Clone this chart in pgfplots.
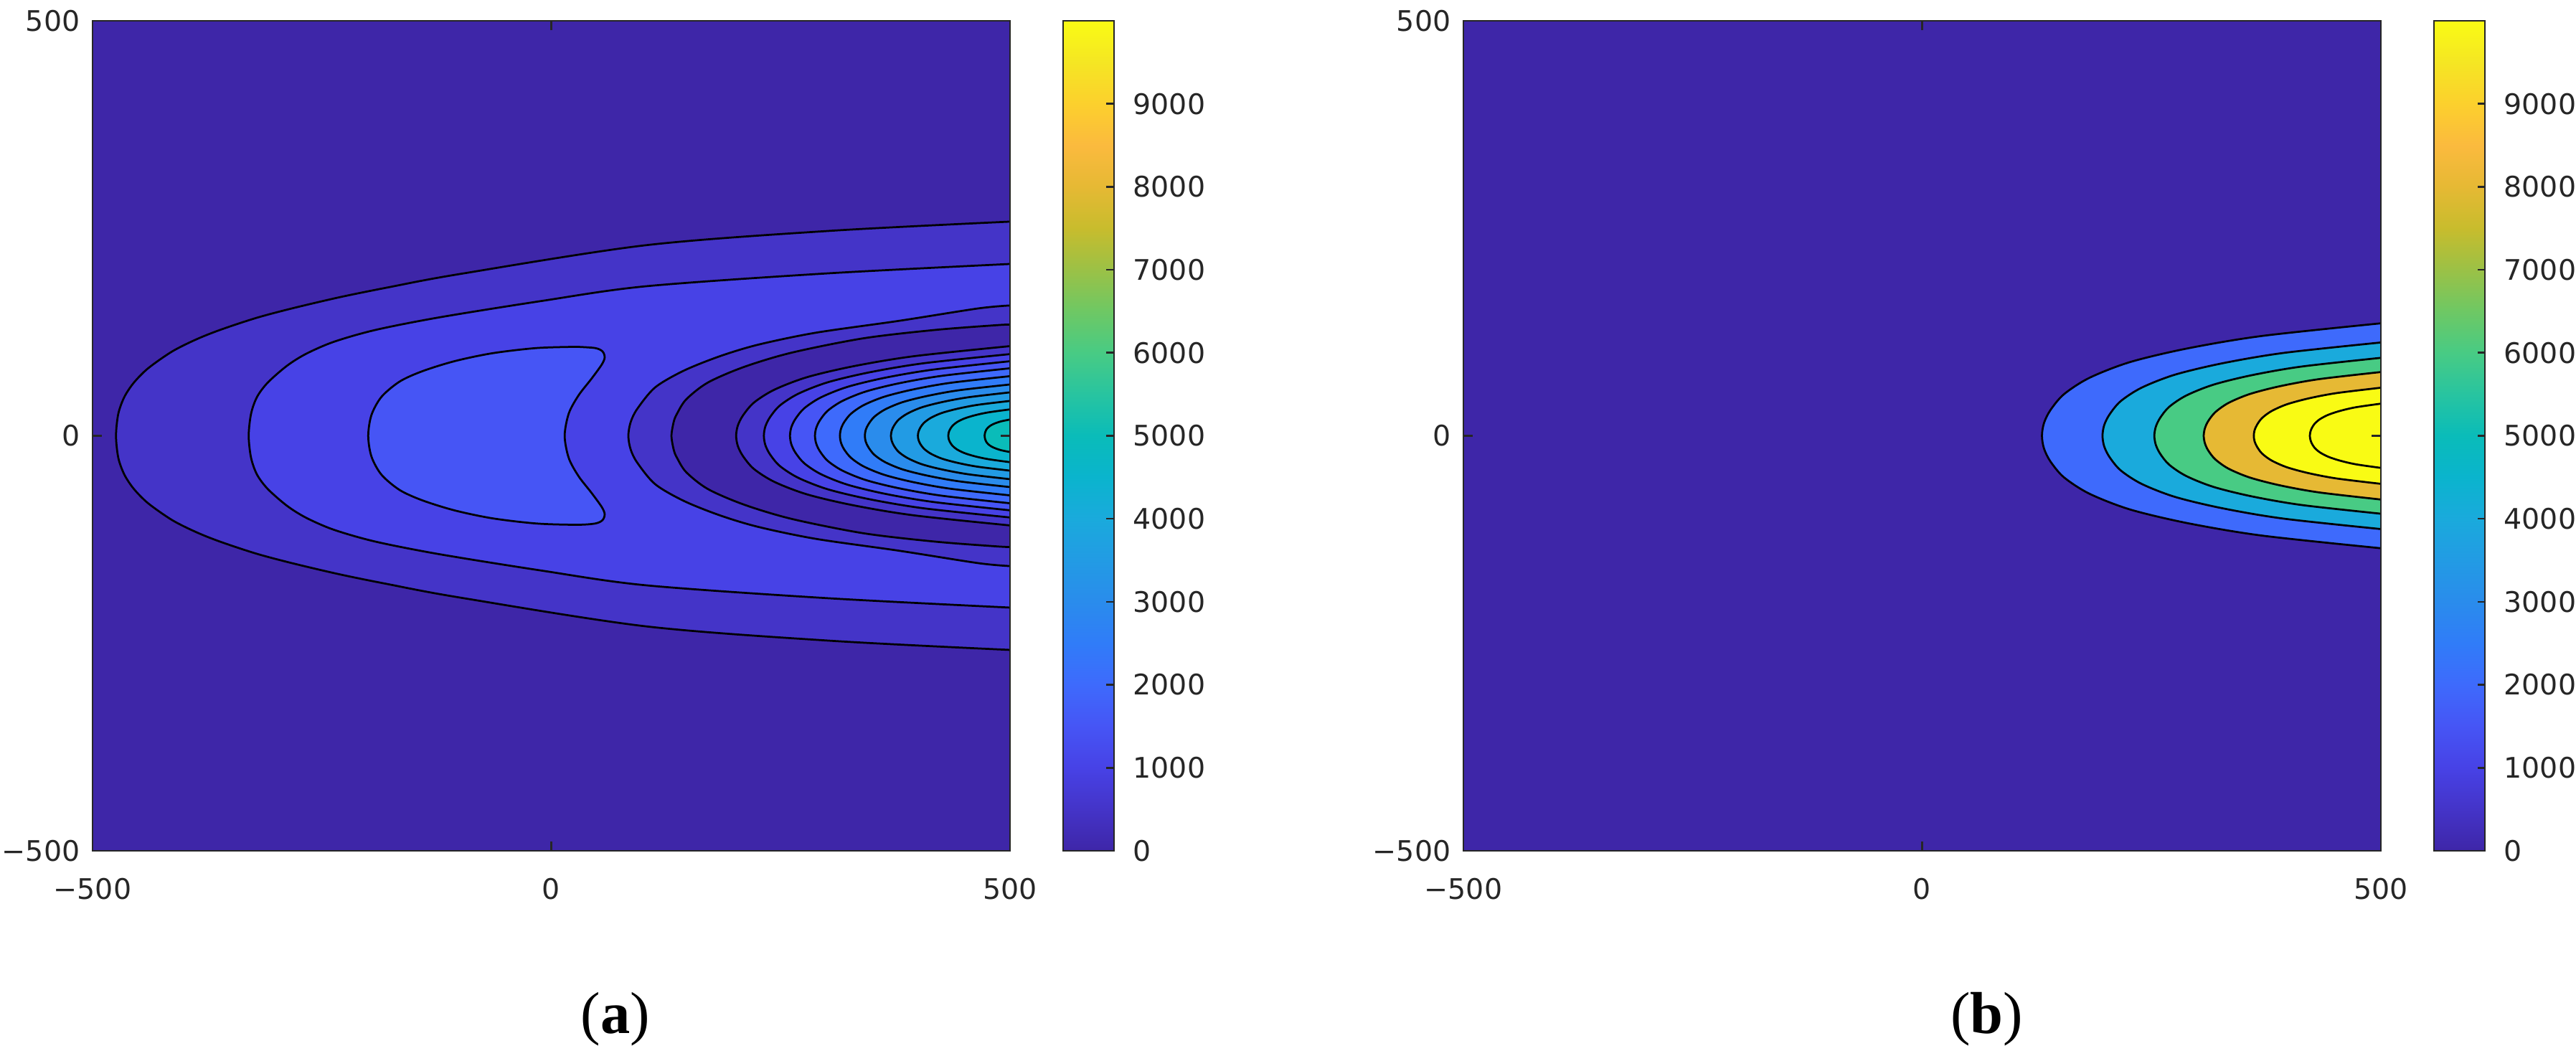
\documentclass[border=0pt]{standalone}
\usepackage{fontspec}
\setmainfont{DejaVu Sans}
\newfontfamily\capfont{Liberation Serif}
\usepackage{pgfplots}
\pgfplotsset{compat=1.18}

% parula-like colours, one every 0.05 of the 0..10000 colour range
\definecolor{p00}{RGB}{62,38,168}
\definecolor{p05}{RGB}{68,52,200}
\definecolor{p10}{RGB}{71,66,230}
\definecolor{p15}{RGB}{70,85,245}
\definecolor{p20}{RGB}{62,106,252}
\definecolor{p25}{RGB}{48,124,248}
\definecolor{p30}{RGB}{42,140,236}
\definecolor{p35}{RGB}{34,155,228}
\definecolor{p40}{RGB}{26,170,220}
\definecolor{p45}{RGB}{10,180,205}
\definecolor{p50}{RGB}{10,188,185}
\definecolor{p60}{RGB}{72,203,132}
\definecolor{p80}{RGB}{230,185,52}
\definecolor{p100}{RGB}{249,251,20}
\definecolor{axgray}{RGB}{38,38,38}

\pgfplotsset{
  colormap={parula}{
    rgb255=(62,38,168) rgb255=(68,52,200) rgb255=(71,66,230) rgb255=(70,85,245)
    rgb255=(62,106,252) rgb255=(48,124,248) rgb255=(42,140,236) rgb255=(34,155,228)
    rgb255=(26,170,220) rgb255=(10,180,205) rgb255=(10,188,185) rgb255=(40,196,160)
    rgb255=(72,203,132) rgb255=(110,200,100) rgb255=(155,193,70) rgb255=(200,188,45)
    rgb255=(230,185,52) rgb255=(251,186,62) rgb255=(252,208,45) rgb255=(245,230,35)
    rgb255=(249,251,20)
  },
  cf/.style={smooth, draw=black, line width=0.55pt, fill=#1},
  panel/.style={
    scale only axis, width=255.8pt, height=231.4pt, anchor=south west,
    xmin=-500, xmax=500, ymin=-500, ymax=500,
    xtick={-500,0,500}, ytick={-500,0,500},
    xticklabels={−500,0,500}, yticklabels={−500,0,500},
    tick align=inside, major tick length=2.6pt,
    axis line style={axgray, line width=0.53pt},
    tick style={axgray, line width=0.53pt},
    tick label style={font=\fontsize{7.9}{9}\selectfont, text=axgray},
    xticklabel style={yshift=-4.2pt},
    axis on top,
    axis background/.style={fill=p00},
    point meta min=0, point meta max=10000,
    colorbar,
    colorbar style={
      at={(parent axis.north east)}, anchor=north west, xshift=6.26pt,
      scale only axis, width=14.2pt, height=231.4pt,
      scaled y ticks=false,
      ytick={0,1000,2000,3000,4000,5000,6000,7000,8000,9000},
      yticklabels={0,1000,2000,3000,4000,5000,6000,7000,8000,9000},
      ytick pos=right, ytick align=inside, major tick length=2.1pt,
      axis line style={axgray, line width=0.53pt},
      tick style={axgray, line width=0.53pt},
      yticklabel style={font=\fontsize{7.9}{9}\selectfont, text=axgray, xshift=1.8pt},
    },
  },
}

\begin{document}
\begin{tikzpicture}
\useasboundingbox (0,0) rectangle (718.2pt,295.8pt);

% (a)
\begin{axis}[panel, at={(25.8pt,58.6pt)}]
\addplot[cf=p05] coordinates {(500,258) (305.1,247) (102.4,229.5) (-100.2,194.8) (-179.2,178.5) (-230.8,166.9) (-282.4,153.5) (-321.8,141.9) (-361.1,127.5) (-387.2,116) (-413.2,101.6) (-439.3,81.4) (-454.9,64.1) (-465.3,46.8) (-471.9,26.6) (-474.4,0) (-471.9,-26.6) (-465.3,-46.8) (-454.9,-64.1) (-439.3,-81.4) (-413.2,-101.6) (-387.2,-116) (-361.1,-127.5) (-321.8,-141.9) (-282.4,-153.5) (-230.8,-166.9) (-179.2,-178.5) (-100.2,-194.8) (102.4,-229.5) (305.1,-247) (500,-258)};
\addplot[cf=p10] coordinates {(500,207) (300,195.6) (102.8,180.1) (-10,162.5) (-121.3,142.8) (-191.7,127.5) (-237.3,113.1) (-267.3,98.7) (-288.1,84.3) (-309,64.1) (-320.7,46.8) (-327.2,26.6) (-329.8,0) (-327.2,-26.6) (-320.7,-46.8) (-309,-64.1) (-288.1,-84.3) (-267.3,-98.7) (-237.3,-113.1) (-191.7,-127.5) (-121.3,-142.8) (-10,-162.5) (102.8,-180.1) (300,-195.6) (500,-207)};
\addplot[cf=p15] coordinates {(27.8,107.2) (47.8,105.7) (55.8,101.7) (58.2,94.5) (55,85.8) (43.8,68.7) (29.8,48.8) (19.1,27) (14.6,0) (19.1,-27) (29.8,-48.8) (43.8,-68.7) (55,-85.8) (58.2,-94.5) (55.8,-101.7) (47.8,-105.7) (27.8,-107.2) (-16,-105.7) (-63.9,-99.5) (-105,-90) (-140,-78) (-165,-65.5) (-185,-47) (-196,-25) (-199.5,0) (-196,25) (-185,47) (-165,65.5) (-140,78) (-105,90) (-63.9,99.5) (-16,105.7) (27.8,107.2)};
\addplot[cf=p05] coordinates {(500,157) (465.1,153.4) (379.1,138.5) (287.9,124.1) (225.3,109.7) (183.6,95.8) (144.5,78.5) (113.2,58.3) (93.7,32.4) (86.5,16.4) (84,0) (86.5,-16.4) (93.7,-32.4) (113.2,-58.3) (144.5,-78.5) (183.6,-95.8) (225.3,-109.7) (287.9,-124.1) (379.1,-138.5) (465.1,-153.4) (500,-157)};
\addplot[cf=p00] coordinates {(500,134) (485.9,133.3) (418.1,127.5) (340,117.4) (261.8,100.1) (209.7,82.8) (170.6,64.1) (147.1,43.9) (137,26.5) (133.5,17) (131,0) (133.5,-17) (137,-26.5) (147.1,-43.9) (170.6,-64.1) (209.7,-82.8) (261.8,-100.1) (340,-117.4) (418.1,-127.5) (485.9,-133.3) (500,-134)};
\addplot[cf=p05] coordinates {(500,108) (395.5,95.9) (329.9,83.9) (279.1,70.7) (243.3,55.6) (220.9,40) (209,24.6) (203.3,12.2) (201.5,0) (203.3,-12.2) (209,-24.6) (220.9,-40) (243.3,-55.6) (279.1,-70.7) (329.9,-83.9) (395.5,-95.9) (500,-108)};
\addplot[cf=p10] coordinates {(500,98.4) (406.1,87.4) (347.1,76.5) (301.5,64.5) (269.3,50.7) (249.1,36.4) (238.4,22.4) (233.3,11.1) (231.7,0) (233.3,-11.1) (238.4,-22.4) (249.1,-36.4) (269.3,-50.7) (301.5,-64.5) (347.1,-76.5) (406.1,-87.4) (500,-98.4)};
\addplot[cf=p15] coordinates {(500,89.8) (416.1,79.7) (363.3,69.8) (322.5,58.8) (293.8,46.2) (275.8,33.2) (266.2,20.5) (261.6,10.1) (260.2,0) (261.6,-10.1) (266.2,-20.5) (275.8,-33.2) (293.8,-46.2) (322.5,-58.8) (363.3,-69.8) (416.1,-79.7) (500,-89.8)};
\addplot[cf=p20] coordinates {(500,81.3) (425.6,72.2) (378.8,63.2) (342.7,53.3) (317.2,41.9) (301.2,30.1) (292.7,18.5) (288.7,9.2) (287.4,0) (288.7,-9.2) (292.7,-18.5) (301.2,-30.1) (317.2,-41.9) (342.7,-53.3) (378.8,-63.2) (425.6,-72.2) (500,-81.3)};
\addplot[cf=p25] coordinates {(500,71.8) (435.1,63.8) (394.3,55.8) (362.8,47) (340.6,37) (326.7,26.6) (319.2,16.4) (315.7,8.1) (314.6,0) (315.7,-8.1) (319.2,-16.4) (326.7,-26.6) (340.6,-37) (362.8,-47) (394.3,-55.8) (435.1,-63.8) (500,-71.8)};
\addplot[cf=p30] coordinates {(500,61.8) (444.6,54.9) (409.8,48) (382.9,40.5) (363.9,31.8) (352.1,22.9) (345.8,14.1) (342.7,7) (341.8,0) (342.7,-7) (345.8,-14.1) (352.1,-22.9) (363.9,-31.8) (382.9,-40.5) (409.8,-48) (444.6,-54.9) (500,-61.8)};
\addplot[cf=p35] coordinates {(500,52.3) (454.6,46.4) (426,40.6) (403.9,34.3) (388.4,26.9) (378.6,19.4) (373.4,11.9) (371,5.9) (370.2,0) (371,-5.9) (373.4,-11.9) (378.6,-19.4) (388.4,-26.9) (403.9,-34.3) (426,-40.6) (454.6,-46.4) (500,-52.3)};
\addplot[cf=p40] coordinates {(500,42) (464.9,37.3) (442.8,32.6) (425.7,27.5) (413.7,21.6) (406.1,15.5) (402.1,9.6) (400.2,4.7) (399.6,0) (400.2,-4.7) (402.1,-9.6) (406.1,-15.5) (413.7,-21.6) (425.7,-27.5) (442.8,-32.6) (464.9,-37.3) (500,-42)};
\addplot[cf=p45] coordinates {(500,31.8) (476.4,28.2) (461.6,24.7) (450.2,20.8) (442.1,16.4) (437.1,11.8) (434.4,7.3) (433.1,3.6) (432.7,0) (433.1,-3.6) (434.4,-7.3) (437.1,-11.8) (442.1,-16.4) (450.2,-20.8) (461.6,-24.7) (476.4,-28.2) (500,-31.8)};
\addplot[cf=p50] coordinates {(500,19.6) (490.3,17.4) (484.2,15.2) (479.5,12.8) (476.2,10.1) (474.1,7.3) (473,4.5) (472.3,0) (473,-4.5) (474.1,-7.3) (476.2,-10.1) (479.5,-12.8) (484.2,-15.2) (490.3,-17.4) (500,-19.6)};
\end{axis}

% (b)
\begin{axis}[panel, at={(408pt,58.6pt)}]
\addplot[cf=p20] coordinates {(500,135.5) (370.7,120.3) (289.4,105.3) (226.6,88.8) (182.3,69.8) (154.6,50.1) (139.8,30.9) (132.8,15.3) (130.6,0) (132.8,-15.3) (139.8,-30.9) (154.6,-50.1) (182.3,-69.8) (226.6,-88.8) (289.4,-105.3) (370.7,-120.3) (500,-135.5)};
\addplot[cf=p40] coordinates {(500,112.4) (393.8,99.8) (327.1,87.3) (275.5,73.6) (239.1,57.9) (216.3,41.6) (204.2,25.6) (198.4,12.7) (196.6,0) (198.4,-12.7) (204.2,-25.6) (216.3,-41.6) (239.1,-57.9) (275.5,-73.6) (327.1,-87.3) (393.8,-99.8) (500,-112.4)};
\addplot[cf=p60] coordinates {(500,93.9) (413.6,83.4) (359.3,73) (317.3,61.5) (287.7,48.4) (269.1,34.7) (259.3,21.4) (254.6,10.6) (253.1,0) (254.6,-10.6) (259.3,-21.4) (269.1,-34.7) (287.7,-48.4) (317.3,-61.5) (359.3,-73) (413.6,-83.4) (500,-93.9)};
\addplot[cf=p80] coordinates {(500,76.8) (432.4,68.2) (389.9,59.7) (357.1,50.3) (333.9,39.6) (319.5,28.4) (311.7,17.5) (308.1,8.7) (306.9,0) (308.1,-8.7) (311.7,-17.5) (319.5,-28.4) (333.9,-39.6) (357.1,-50.3) (389.9,-59.7) (432.4,-68.2) (500,-76.8)};
\addplot[cf=p100] coordinates {(500,57.9) (451.5,51.4) (421.1,45) (397.5,37.9) (380.9,29.8) (370.5,21.4) (365,13.2) (362.3,6.5) (361.5,0) (362.3,-6.5) (365,-13.2) (370.5,-21.4) (380.9,-29.8) (397.5,-37.9) (421.1,-45) (451.5,-51.4) (500,-57.9)};
\addplot[cf=p100] coordinates {(500,38.7) (472.9,34.4) (455.9,30.1) (442.7,25.3) (433.4,19.9) (427.6,14.3) (424.5,8.8) (423.1,4.4) (422.6,0) (423.1,-4.4) (424.5,-8.8) (427.6,-14.3) (433.4,-19.9) (442.7,-25.3) (455.9,-30.1) (472.9,-34.4) (500,-38.7)};
\end{axis}

\node[font=\capfont\fontsize{16.5}{18}\selectfont] at (171.6pt,11.6pt) {(\textbf{a})};
\node[font=\capfont\fontsize{16.5}{18}\selectfont] at (553.9pt,11.6pt) {(\textbf{b})};
\end{tikzpicture}
\end{document}
